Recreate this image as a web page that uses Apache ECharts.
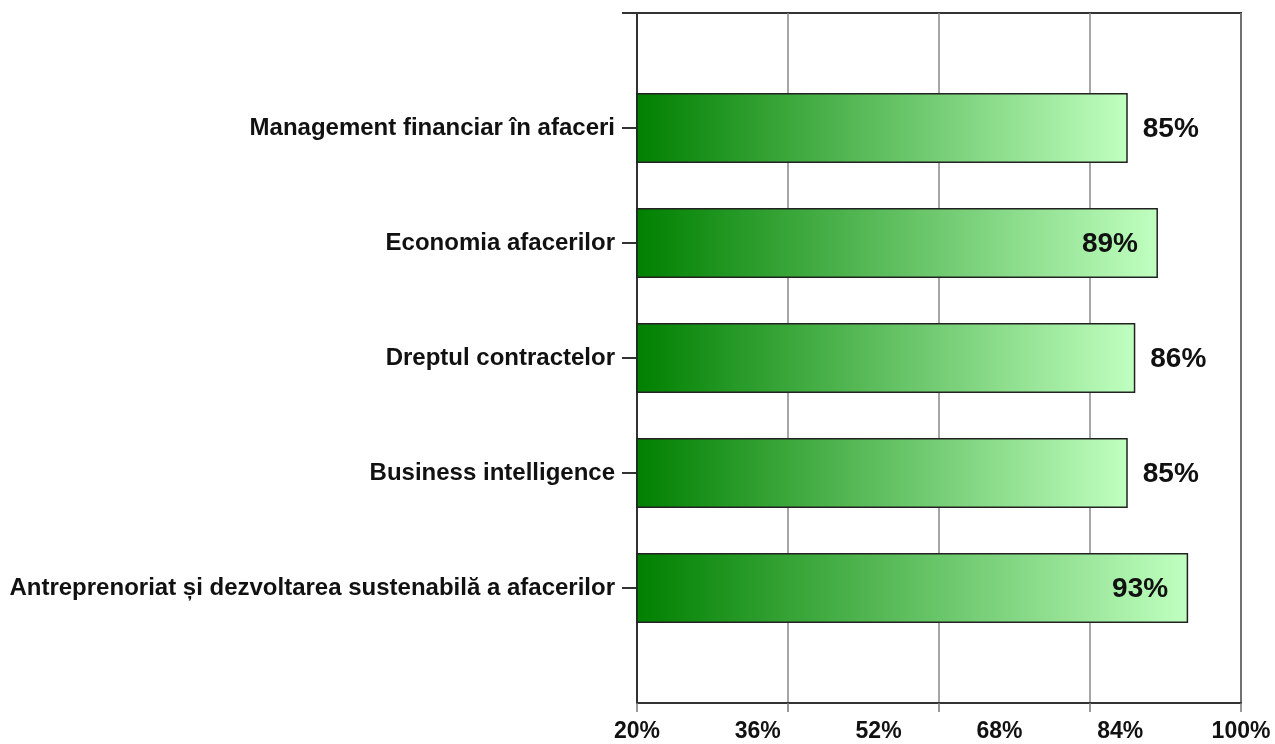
<!DOCTYPE html>
<html>
<head>
<meta charset="utf-8">
<script src="https://cdn.jsdelivr.net/npm/echarts@6/dist/echarts.min.js"></script>
<style>
  html, body { margin: 0; padding: 0; background: #fff; }
  #chart { width: 1275px; height: 744px; }
</style>
</head>
<body>
<div id="chart"></div>
<script>
// Courses, listed top to bottom
const categories = [
  'Management financiar în afaceri',
  'Economia afacerilor',
  'Dreptul contractelor',
  'Business intelligence',
  'Antreprenoriat și dezvoltarea sustenabilă a afacerilor'
];
// Share of respondents, percent
const values = [85, 89, 86, 85, 93];
// Value axis labels (printed every 16%)
const xLabelValues = [20, 36, 52, 68, 84, 100];
// Value axis ticks and grid lines (every 20%)
const xTickValues = [20, 40, 60, 80, 100];

// Empty slot above and below so bars sit half a band away from the frame
const yData = [''].concat(categories, ['']);
const seriesData = [null].concat(values, [null]);

const chart = echarts.init(document.getElementById('chart'));
const FONT = '"Liberation Sans", Arial, sans-serif';

chart.setOption({
  backgroundColor: '#ffffff',
  animation: false,
  grid: {
    left: 637, right: 34, top: 13, bottom: 41,
    show: true, borderColor: '#333', borderWidth: 2, containLabel: false
  },
  xAxis: {
    type: 'value',
    min: xTickValues[0],
    max: xTickValues[xTickValues.length - 1],
    interval: 20,
    axisLine: { show: true, lineStyle: { color: '#333', width: 2 } },
    axisTick: { show: true, length: 9, lineStyle: { color: '#777', width: 1.5 } },
    axisLabel: {
      customValues: xLabelValues,
      formatter: v => v + '%',
      color: '#111', fontFamily: FONT, fontWeight: 'bold', fontSize: 23, margin: 17
    },
    splitLine: { show: true, lineStyle: { color: '#888', width: 1.5 } }
  },
  yAxis: {
    type: 'category',
    data: yData,
    inverse: true,
    boundaryGap: false,
    axisLine: { show: true, lineStyle: { color: '#333', width: 2 } },
    axisTick: {
      show: true, inside: false, length: 15,
      interval: idx => idx !== yData.length - 1,
      lineStyle: { color: '#333', width: 2 }
    },
    axisLabel: {
      color: '#111', fontFamily: FONT, fontWeight: 'bold', fontSize: 24, margin: 22
    },
    splitLine: { show: false }
  },
  series: [{
    type: 'bar',
    data: seriesData.map(v => v === null ? '-' : {
      value: v,
      label: v >= 88
        ? { position: 'insideRight', distance: 20 }
        : { position: 'right', distance: 15 }
    }),
    barWidth: 70,
    itemStyle: {
      color: new echarts.graphic.LinearGradient(0, 0, 1, 0, [
        { offset: 0, color: '#008000' },
        { offset: 1, color: '#c0ffc0' }
      ]),
      borderColor: '#222',
      borderWidth: 1.5
    },
    label: {
      show: true,
      formatter: p => p.value + '%',
      color: '#111', fontFamily: FONT, fontWeight: 'bold', fontSize: 28,
      offset: [0, 1]
    }
  }]
});
</script>
</body>
</html>
